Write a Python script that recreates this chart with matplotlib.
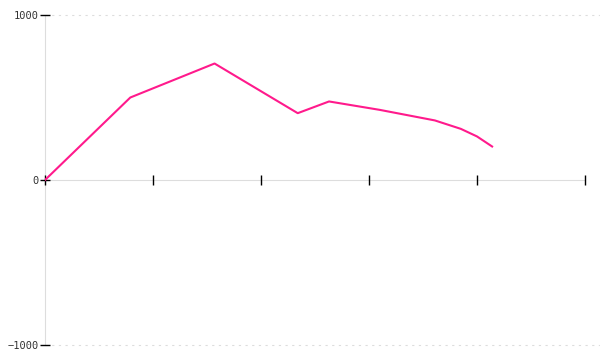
import matplotlib
matplotlib.use('Agg')
import matplotlib.pyplot as plt

# values
xs = [0, 0.79, 1.57, 2.34, 2.63, 3.1, 3.61, 3.85, 4.0, 4.14]
ys = [0, 500, 706, 405, 476, 425, 361, 310, 264, 203]
yticks = [-1000, 0, 1000]
xticks = [0, 1, 2, 3, 4, 5]

fig = plt.figure(figsize=(6, 3.6), dpi=100)
ax = fig.add_axes([45/600, 15/360, 540/600, 330/360])

ax.plot(xs, ys, color='#ff1a8c', lw=1.5, solid_joinstyle='round', zorder=3)

ax.set_xlim(0, 5)
ax.set_ylim(-1000, 1000)
ax.set_xticks(xticks)
ax.set_xticklabels([])
ax.set_yticks(yticks)
ax.set_yticklabels(['\u22121000', '0', '1000'], family='DejaVu Sans Mono', fontsize=7.5, color='#333333')

for s in ['top', 'right']:
    ax.spines[s].set_visible(False)
ax.spines['bottom'].set_position(('data', 0))
for s in ['bottom', 'left']:
    ax.spines[s].set_color('#dddddd')
    ax.spines[s].set_zorder(1)

ax.tick_params(axis='both', direction='inout', length=7, width=1, color='black')
ax.tick_params(axis='y', pad=1)

for v in [-1000, 1000]:
    ax.axhline(v, xmax=1.03, color='#dddddd', lw=0.8, ls=(0, (2, 4)), zorder=0, clip_on=False)

fig.savefig('out.png', dpi=100)
